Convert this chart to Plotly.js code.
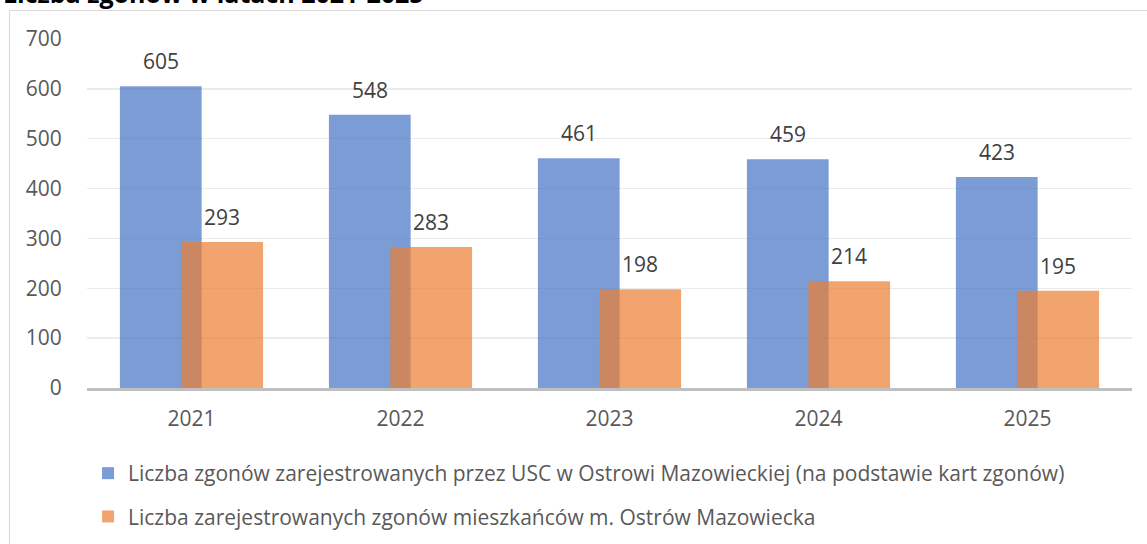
<!DOCTYPE html>
<html>
<head>
<meta charset="utf-8">
<script src="https://cdn.plot.ly/plotly-3.0.1.min.js"></script>
<style>
html,body{margin:0;padding:0;background:#fff;}
#chart{width:1147px;height:544px;}
</style>
</head>
<body>
<div id="chart"></div>
<script>
const title = "Liczba zgonów w latach 2021-2025";
const years = ["2021", "2022", "2023", "2024", "2025"];
const seriesNames = [
  "Liczba zgonów zarejestrowanych przez USC w Ostrowi Mazowieckiej (na podstawie kart zgonów)",
  "Liczba zarejestrowanych zgonów mieszkańców m. Ostrów Mazowiecka"
];
const usc = [605, 548, 461, 459, 423];
const residents = [293, 283, 198, 214, 195];
const yTicks = [0, 100, 200, 300, 400, 500, 600, 700];

const FONT = "Open Sans, Noto Sans, sans-serif";
const barW = 0.391;
const shift = 0.147;

const traces = [
  {
    type: "bar", name: seriesNames[0], x: years, y: usc,
    width: barW, offset: -shift - barW / 2,
    marker: {color: "rgba(68,114,196,0.7)"},
    legendgroup: "a", hoverinfo: "x+y"
  },
  {
    type: "bar", name: seriesNames[1], x: years, y: residents,
    width: barW, offset: shift - barW / 2,
    marker: {color: "rgba(237,125,49,0.7)"},
    legendgroup: "b", hoverinfo: "x+y"
  }
];

const annotations = [];
[usc, residents].forEach((vals, s) => {
  vals.forEach((v, i) => {
    annotations.push({
      xref: "x", yref: "y", x: i + (s === 0 ? -shift : shift), y: v,
      text: String(v), showarrow: false, xanchor: "center", yanchor: "bottom",
      yshift: 9, font: {family: FONT, size: 21, color: "#404040"}
    });
  });
});
annotations.push({
  xref: "paper", yref: "paper", x: 0, y: 1, xanchor: "left", yanchor: "bottom",
  xshift: -86, yshift: 27, showarrow: false, text: "<b>" + title + "</b>",
  font: {family: FONT, size: 25, color: "#000000"}
});

const layout = {
  width: 1147, height: 544,
  margin: {l: 87, r: 15, t: 39, b: 156, pad: 0, autoexpand: false},
  paper_bgcolor: "#ffffff", plot_bgcolor: "#ffffff",
  barmode: "overlay",
  showlegend: true,
  legend: {
    xref: "paper", yref: "container",
    x: 0.001, xanchor: "left", y: (544 - 453) / 544, yanchor: "top",
    orientation: "v", traceorder: "grouped", tracegroupgap: 13,
    font: {family: FONT, size: 21, color: "#595959"},
    bgcolor: "rgba(0,0,0,0)"
  },
  xaxis: {
    type: "category", categoryarray: years, range: [-0.5, 4.5], automargin: false,
    showgrid: false, zeroline: false,
    showline: true, linecolor: "#bfbfbf", linewidth: 3,
    ticks: "outside", ticklen: 10, tickcolor: "rgba(0,0,0,0)",
    tickfont: {family: FONT, size: 21, color: "#595959"}
  },
  yaxis: {
    range: [0, 700], tickvals: yTicks, ticktext: yTicks.map(String), automargin: false,
    showgrid: true, gridcolor: "#ebebeb", gridwidth: 1.5,
    zeroline: false, showline: false,
    ticks: "outside", ticklen: 20, tickcolor: "rgba(0,0,0,0)",
    tickfont: {family: FONT, size: 21, color: "#595959"}
  },
  shapes: [{
    type: "rect", xref: "paper", yref: "paper", layer: "below",
    x0: (9.5 - 87) / 1045, x1: (1170 - 87) / 1045,
    y0: (388 - 10.5) / 349, y1: (388 - 580) / 349,
    line: {color: "#d9d9d9", width: 1}, fillcolor: "rgba(0,0,0,0)"
  }],
  annotations: annotations,
  font: {family: FONT}
};

Plotly.newPlot("chart", traces, layout, {displayModeBar: false, staticPlot: true});
</script>
</body>
</html>
